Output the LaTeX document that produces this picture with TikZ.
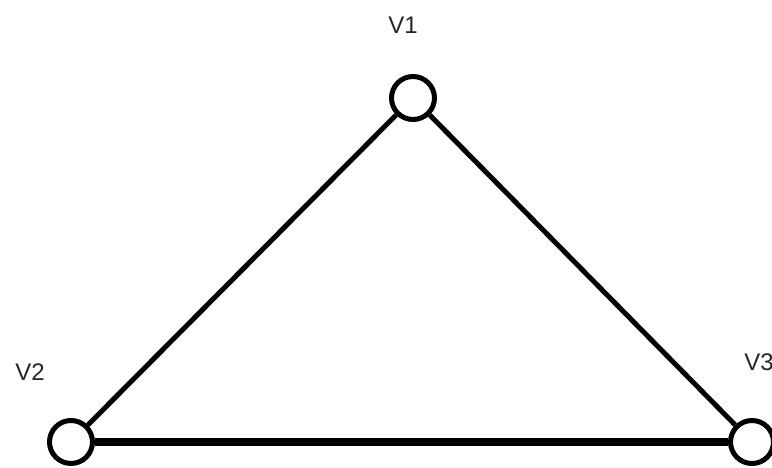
\documentclass[tikz,border=0pt]{standalone}
\usepackage{fontspec}
\setmainfont{Liberation Sans}
\begin{document}
\begin{tikzpicture}[x=1pt,y=1pt,
  vertex/.style={circle,draw=black,line width=5pt,fill=white,minimum size=43pt,inner sep=0pt},
  lbl/.style={font=\fontsize{24}{28}\selectfont,text=black!85},
  edge/.style={line width=5pt,draw=black},
  thickedge/.style={line width=8pt,draw=black}]
\useasboundingbox (0,0) rectangle (772,-468);
\node[vertex] (v1) at (413,-98) {};
\node[vertex] (v2) at (71,-442) {};
\node[vertex] (v3) at (752,-442) {};
\draw[edge] (v1) -- (v2);
\draw[edge] (v1) -- (v3);
\draw[thickedge] (v2) -- (v3);
\node[lbl] (l1) at (403,-25) {V1};
\node[lbl] (l2) at (30,-372) {V2};
\node[lbl] (l3) at (759,-362) {V3};
\end{tikzpicture}
\end{document}
